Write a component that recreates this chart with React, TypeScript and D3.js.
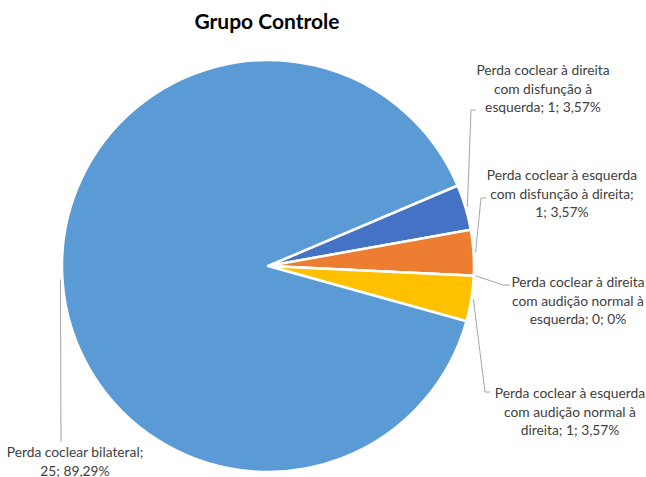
import React from 'react';
import * as d3 from 'd3';

// dados do gráfico (ordem horária a partir da fatia azul escura)
const categories = [
  'Perda coclear à direita com disfunção à esquerda',
  'Perda coclear à esquerda com disfunção à direita',
  'Perda coclear à direita com audição normal à esquerda',
  'Perda coclear à esquerda com audição normal à direita',
  'Perda coclear bilateral',
];
const values = [1, 1, 0, 1, 25];
const colors = ['#4472C4', '#ED7D31', '#A5A5A5', '#FFC000', '#5B9BD5'];
const labelLines = [
  ['Perda coclear à direita', 'com disfunção à', 'esquerda; 1; 3,57%'],
  ['Perda coclear à esquerda', 'com disfunção à direita;', '1; 3,57%'],
  ['Perda coclear à direita', 'com audição normal à', 'esquerda; 0; 0%'],
  ['Perda coclear à esquerda', 'com audição normal à', 'direita; 1; 3,57%'],
  ['Perda coclear bilateral;', '25; 89,29%'],
];
const title = 'Grupo Controle';

// posição dos rótulos: centro x, baseline da 1a linha, cotovelo e fim da linha guia
const labelLayout = [
  { x: 543, y: 75, elbow: [471, 110], end: [476, 110] },
  { x: 562, y: 180, elbow: [481, 198], end: [486, 198] },
  { x: 578, y: 287, elbow: [503, 285], end: [510, 285] },
  { x: 570, y: 398, elbow: [485, 392], end: [490, 392] },
  { x: 75, y: 457, elbow: [61, 442], end: [61, 442] },
];

const W = 646;
const H = 477;
const cx = 268;
const cy = 266;
const R = 206;
const font = 'Lato, "Open Sans", sans-serif';

const App = () => {
  const pie = d3
    .pie<number>()
    .sort(null)
    .value((d) => d)
    .startAngle((67 * Math.PI) / 180)
    .endAngle((67 * Math.PI) / 180 + 2 * Math.PI);
  const arcs = pie(values);
  const arc = d3.arc<d3.PieArcDatum<number>>().innerRadius(0).outerRadius(R);
  const edge = d3.arc<d3.PieArcDatum<number>>().innerRadius(R + 2).outerRadius(R + 2);

  return (
    <svg
      width={W}
      height={H}
      style={{ position: 'absolute', left: 0, top: 0, background: '#fff' }}
    >
      <text
        x={267}
        y={29}
        textAnchor="middle"
        fontFamily={font}
        fontWeight="bold"
        fontSize={21}
        fill="#000"
      >
        {title}
      </text>
      <g transform={`translate(${cx},${cy})`}>
        {arcs.map((a, i) => (
          <path
            key={categories[i]}
            d={arc(a) || ''}
            fill={colors[i]}
            stroke="#fff"
            strokeWidth={2.5}
            strokeLinejoin="round"
          />
        ))}
      </g>
      {arcs.map((a, i) => {
        const [px, py] = edge.centroid(a);
        const l = labelLayout[i];
        const pts = [[cx + px, cy + py], l.elbow, l.end];
        return (
          <path
            key={'l' + i}
            d={d3.line()(pts as [number, number][]) || ''}
            fill="none"
            stroke="#A6A6A6"
            strokeWidth={1}
          />
        );
      })}
      {labelLines.map((lines, i) => (
        <text
          key={'t' + i}
          textAnchor="middle"
          fontFamily={font}
          fontSize={13.8}
          fill="#404040"
        >
          {lines.map((s, j) => (
            <tspan key={j} x={labelLayout[i].x} y={labelLayout[i].y + j * 18.5}>
              {s}
            </tspan>
          ))}
        </text>
      ))}
    </svg>
  );
};

export default App;
